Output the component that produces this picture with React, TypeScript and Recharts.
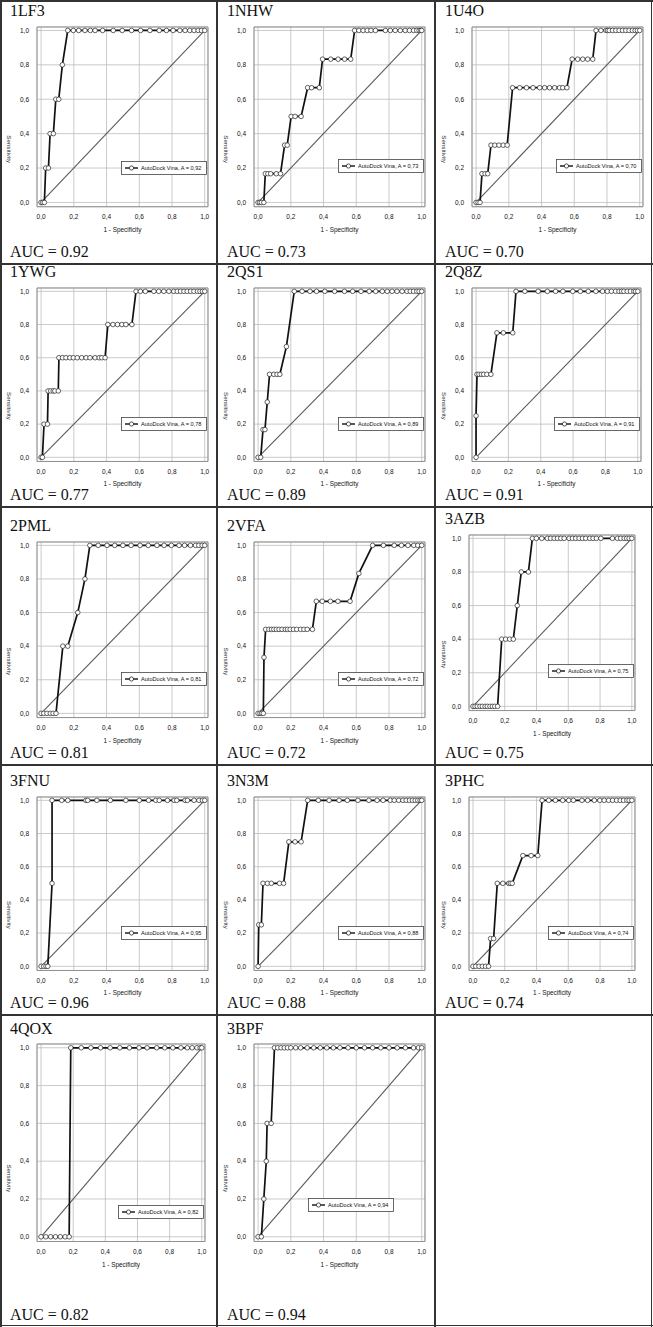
import React from "react";
import {
  CartesianGrid,
  Legend,
  Line,
  LineChart,
  ReferenceArea,
  ReferenceLine,
  XAxis,
  YAxis,
} from "recharts";

document.body.style.margin = "0";

const TARGETS = ["1LF3", "1NHW", "1U4O", "1YWG", "2QS1", "2Q8Z", "2PML", "2VFA", "3AZB", "3FNU", "3N3M", "3PHC", "4QOX", "3BPF"];
const AUC_VALUES = ["0.92", "0.73", "0.70", "0.77", "0.89", "0.91", "0.81", "0.72", "0.75", "0.96", "0.88", "0.74", "0.82", "0.94"];
const LEGEND_A = ["0,92", "0,73", "0,70", "0,78", "0,89", "0,91", "0,81", "0,72", "0,75", "0,95", "0,88", "0,74", "0,82", "0,94"];
const TICKS = [0, 0.2, 0.4, 0.6, 0.8, 1];

// [1 - specificity, sensitivity]
const ROC_1LF3 = [[0,0],[0.01,0],[0.02,0],[0.028,0.2],[0.045,0.2],[0.055,0.4],[0.075,0.4],[0.09,0.6],[0.108,0.6],[0.13,0.8],[0.163,1],[0.197,1],[0.23,1],[0.268,1],[0.301,1],[0.33,1],[0.376,1],[0.441,1],[0.496,1],[0.553,1],[0.608,1],[0.665,1],[0.722,1],[0.766,1],[0.807,1],[0.848,1],[0.88,1],[0.909,1],[0.935,1],[0.96,1],[0.98,1],[1,1]];
const ROC_1NHW = [[0,0],[0.01,0],[0.02,0],[0.035,0],[0.044,0.167],[0.06,0.167],[0.077,0.167],[0.111,0.167],[0.137,0.167],[0.162,0.333],[0.178,0.333],[0.202,0.5],[0.226,0.5],[0.263,0.5],[0.303,0.667],[0.327,0.667],[0.374,0.667],[0.394,0.833],[0.444,0.833],[0.489,0.833],[0.529,0.833],[0.566,0.833],[0.59,1],[0.616,1],[0.642,1],[0.667,1],[0.69,1],[0.717,1],[0.778,1],[0.808,1],[0.838,1],[0.869,1],[0.899,1],[0.925,1],[0.95,1],[0.97,1],[0.984,1],[0.994,1],[1,1]];
const ROC_1U4O = [[0,0],[0.012,0],[0.024,0],[0.036,0.167],[0.055,0.167],[0.071,0.167],[0.091,0.333],[0.115,0.333],[0.14,0.333],[0.166,0.333],[0.19,0.333],[0.223,0.667],[0.267,0.667],[0.308,0.667],[0.348,0.667],[0.389,0.667],[0.419,0.667],[0.449,0.667],[0.48,0.667],[0.51,0.667],[0.53,0.667],[0.555,0.667],[0.587,0.833],[0.621,0.833],[0.652,0.833],[0.682,0.833],[0.713,0.833],[0.733,1],[0.763,1],[0.794,1],[0.804,1],[0.814,1],[0.834,1],[0.854,1],[0.874,1],[0.895,1],[0.915,1],[0.935,1],[0.955,1],[0.972,1],[0.986,1],[1,1]];
const ROC_1YWG = [[0,0],[0.008,0],[0.018,0.2],[0.039,0.2],[0.043,0.4],[0.059,0.4],[0.074,0.4],[0.084,0.4],[0.105,0.4],[0.109,0.6],[0.131,0.6],[0.152,0.6],[0.176,0.6],[0.197,0.6],[0.221,0.6],[0.248,0.6],[0.275,0.6],[0.299,0.6],[0.33,0.6],[0.355,0.6],[0.371,0.6],[0.391,0.6],[0.408,0.8],[0.439,0.8],[0.467,0.8],[0.494,0.8],[0.518,0.8],[0.555,0.8],[0.58,1],[0.607,1],[0.637,1],[0.689,1],[0.719,1],[0.75,1],[0.781,1],[0.811,1],[0.832,1],[0.852,1],[0.873,1],[0.893,1],[0.914,1],[0.934,1],[0.955,1],[0.971,1],[0.986,1],[1,1]];
const ROC_2QS1 = [[0,0],[0.016,0],[0.03,0.167],[0.042,0.167],[0.056,0.333],[0.07,0.5],[0.096,0.5],[0.116,0.5],[0.133,0.5],[0.173,0.667],[0.221,1],[0.269,1],[0.317,1],[0.357,1],[0.408,1],[0.468,1],[0.528,1],[0.578,1],[0.629,1],[0.679,1],[0.719,1],[0.759,1],[0.789,1],[0.819,1],[0.849,1],[0.88,1],[0.91,1],[0.93,1],[0.95,1],[0.97,1],[0.984,1],[1,1]];
const ROC_2Q8Z = [[0,0],[0,0.25],[0.006,0.5],[0.018,0.5],[0.033,0.5],[0.047,0.5],[0.067,0.5],[0.092,0.5],[0.129,0.75],[0.169,0.75],[0.227,0.75],[0.247,1],[0.302,1],[0.384,1],[0.441,1],[0.492,1],[0.537,1],[0.598,1],[0.645,1],[0.694,1],[0.741,1],[0.782,1],[0.812,1],[0.837,1],[0.863,1],[0.884,1],[0.9,1],[0.914,1],[0.935,1],[0.955,1],[0.976,1],[0.986,1],[1,1]];
const ROC_2PML = [[0,0],[0.016,0],[0.036,0],[0.056,0],[0.073,0],[0.091,0],[0.133,0.4],[0.163,0.4],[0.224,0.6],[0.268,0.8],[0.298,1],[0.349,1],[0.403,1],[0.45,1],[0.5,1],[0.55,1],[0.605,1],[0.655,1],[0.708,1],[0.752,1],[0.796,1],[0.843,1],[0.877,1],[0.913,1],[0.944,1],[0.964,1],[0.984,1],[1,1]];
const ROC_2VFA = [[0,0],[0.012,0],[0.022,0],[0.032,0],[0.036,0.333],[0.046,0.5],[0.066,0.5],[0.082,0.5],[0.096,0.5],[0.112,0.5],[0.128,0.5],[0.146,0.5],[0.166,0.5],[0.18,0.5],[0.196,0.5],[0.216,0.5],[0.236,0.5],[0.26,0.5],[0.28,0.5],[0.3,0.5],[0.332,0.5],[0.356,0.667],[0.392,0.667],[0.442,0.667],[0.488,0.667],[0.562,0.667],[0.616,0.833],[0.7,1],[0.766,1],[0.832,1],[0.876,1],[0.916,1],[0.952,1],[0.976,1],[1,1]];
const ROC_3AZB = [[0,0],[0.013,0],[0.027,0],[0.044,0],[0.059,0],[0.076,0],[0.09,0],[0.107,0],[0.122,0],[0.137,0],[0.155,0],[0.181,0.4],[0.206,0.4],[0.231,0.4],[0.254,0.4],[0.279,0.6],[0.304,0.8],[0.349,0.8],[0.374,1],[0.399,1],[0.433,1],[0.468,1],[0.489,1],[0.511,1],[0.532,1],[0.553,1],[0.574,1],[0.605,1],[0.626,1],[0.647,1],[0.668,1],[0.689,1],[0.71,1],[0.735,1],[0.756,1],[0.777,1],[0.805,1],[0.878,1],[0.909,1],[0.93,1],[0.952,1],[0.968,1],[0.983,1],[1,1]];
const ROC_3FNU = [[0,0],[0.016,0],[0.03,0],[0.041,0],[0.067,0.5],[0.067,1],[0.126,1],[0.163,1],[0.274,1],[0.285,1],[0.341,1],[0.423,1],[0.518,1],[0.6,1],[0.657,1],[0.701,1],[0.722,1],[0.772,1],[0.813,1],[0.829,1],[0.88,1],[0.894,1],[0.935,1],[0.965,1],[0.986,1],[1,1]];
const ROC_3N3M = [[0,0],[0.004,0.25],[0.02,0.25],[0.03,0.5],[0.057,0.5],[0.081,0.5],[0.131,0.5],[0.156,0.5],[0.188,0.75],[0.226,0.75],[0.263,0.75],[0.303,1],[0.368,1],[0.434,1],[0.495,1],[0.545,1],[0.61,1],[0.677,1],[0.727,1],[0.764,1],[0.808,1],[0.832,1],[0.859,1],[0.885,1],[0.905,1],[0.925,1],[0.943,1],[0.96,1],[0.976,1],[0.99,1],[1,1]];
const ROC_3PHC = [[0,0],[0.017,0],[0.038,0],[0.059,0],[0.079,0],[0.098,0],[0.111,0.167],[0.13,0.167],[0.153,0.5],[0.188,0.5],[0.225,0.5],[0.235,0.5],[0.247,0.5],[0.314,0.667],[0.366,0.667],[0.408,0.667],[0.435,1],[0.477,1],[0.519,1],[0.565,1],[0.603,1],[0.632,1],[0.686,1],[0.722,1],[0.764,1],[0.799,1],[0.826,1],[0.854,1],[0.879,1],[0.904,1],[0.927,1],[0.948,1],[0.969,1],[0.983,1],[1,1]];
const ROC_4QOX = [[0,0],[0.03,0],[0.06,0],[0.09,0],[0.12,0],[0.15,0],[0.175,0],[0.185,1],[0.25,1],[0.31,1],[0.37,1],[0.43,1],[0.49,1],[0.55,1],[0.61,1],[0.66,1],[0.72,1],[0.77,1],[0.82,1],[0.87,1],[0.91,1],[0.94,1],[0.97,1],[0.99,1],[1,1]];
const ROC_3BPF = [[0,0],[0.02,0],[0.035,0.2],[0.05,0.4],[0.055,0.6],[0.08,0.6],[0.1,1],[0.12,1],[0.14,1],[0.16,1],[0.18,1],[0.2,1],[0.23,1],[0.26,1],[0.3,1],[0.34,1],[0.38,1],[0.42,1],[0.46,1],[0.5,1],[0.55,1],[0.6,1],[0.65,1],[0.7,1],[0.75,1],[0.8,1],[0.85,1],[0.9,1],[0.95,1],[0.98,1],[1,1]];

const CURVES = [ROC_1LF3, ROC_1NHW, ROC_1U4O, ROC_1YWG, ROC_2QS1, ROC_2Q8Z, ROC_2PML, ROC_2VFA, ROC_3AZB, ROC_3FNU, ROC_3N3M, ROC_3PHC, ROC_4QOX, ROC_3BPF];

// table layout
const ROW_TOPS = [0, 264, 507, 765, 1015, 1327];
const COL_LEFTS = [0, 217, 435, 653];
// per row: where the 1,0 gridline sits inside the cell, and pixels per unit on the y axis
const ROW_Y1 = [30, 27, 38, 35, 33];
const ROW_UNIT = [172, 166, 168, 166, 189];
// per cell: y-axis width, right margin, vertical shift, legend centre (sensitivity units) and legend x shift
const CELL_YAXIS = [37, 37, 37, 37, 37, 37, 37, 37, 34, 37, 37, 34, 37, 37];
const CELL_RIGHT = [9, 9, 9, 9, 9, 11, 9, 9, 17, 9, 9, 17, 12, 9];
const CELL_Y1_SHIFT = [0, 0, 0, 0, 0, 0, 0, 0, -7, 0, 0, 0, 0, 0];
const CELL_LEGEND_Y = [0.2, 0.21, 0.21, 0.2, 0.2, 0.2, 0.2, 0.2, 0.21, 0.2, 0.2, 0.2, 0.13, 0.17];
const CELL_LEGEND_DX = [0, 0, 0, 0, 0, 0, 0, 0, 0, 0, 0, 0, 0, -30];

const LO = -0.025;
const HI = 1.02;
const SERIF = "'Liberation Serif', 'Times New Roman', serif";
const SANS = "'Liberation Sans', Arial, sans-serif";
const AXIS_H = 33;
const LEGEND_W = 86;

const fmt = (v: number) => v.toFixed(1).replace(".", ",");

function LegendBox({ a }: { a: string }) {
  return (
    <svg width={LEGEND_W} height={14} style={{ display: "block" }}>
      <rect x={0.5} y={0.5} width={LEGEND_W - 1} height={13} fill="#fff" stroke="#444" strokeWidth={0.8} />
      <line x1={4} y1={7} x2={17} y2={7} stroke="#111" strokeWidth={1.4} />
      <circle cx={10.5} cy={7} r={2.1} fill="#fff" stroke="#111" strokeWidth={0.7} />
      <text x={20} y={9.2} fontSize={5.6} fontFamily={SANS} fill="#111">
        AutoDock Vina, A = {a}
      </text>
    </svg>
  );
}

function RocCell({ index }: { index: number }) {
  const row = Math.floor(index / 3);
  const col = index % 3;
  const left = COL_LEFTS[col];
  const top = ROW_TOPS[row];
  const width = COL_LEFTS[col + 1] - left;
  const height = ROW_TOPS[row + 1] - top;
  const unit = ROW_UNIT[row];
  const plotH = unit * (HI - LO);
  const chartH = 3 + plotH + AXIS_H;
  const chartTop = ROW_Y1[row] + CELL_Y1_SHIFT[index] - 3 - unit * (HI - 1);
  const data = CURVES[index].map(([x, y]) => ({ x, y }));
  const legendTop = 3 + unit * (HI - CELL_LEGEND_Y[index]) - 7;
  const legendLeft = 217 - CELL_RIGHT[index] - LEGEND_W - 1 + CELL_LEGEND_DX[index];

  const yLabel = (p: any) => {
    const vb = p.viewBox;
    const cx = vb.x + 7;
    const cy = vb.y + vb.height * 0.68;
    return (
      <text x={cx} y={cy} textAnchor="middle" fontSize={6.2} fontFamily={SANS} fill="#222" transform={`rotate(90, ${cx}, ${cy})`}>
        Sensitivity
      </text>
    );
  };
  const xLabel = (p: any) => {
    const vb = p.viewBox;
    return (
      <text x={vb.x + vb.width / 2} y={vb.y + 25} textAnchor="middle" fontSize={6.4} fontFamily={SANS} fill="#111">
        1 - Specificity
      </text>
    );
  };

  return (
    <div style={{ position: "absolute", left, top, width, height }}>
      <div style={{ position: "absolute", left: 10, top: ROW_Y1[row] + CELL_Y1_SHIFT[index] - 28, fontFamily: SERIF, fontSize: 16, color: "#111" }}>
        {TARGETS[index]}
      </div>
      <div style={{ position: "absolute", left: 0, top: chartTop }}>
        <LineChart
          width={217}
          height={chartH}
          data={data}
          margin={{ top: 3, right: CELL_RIGHT[index], bottom: 0, left: 0 }}
        >
          <CartesianGrid stroke="#bcbcbc" strokeWidth={0.8} />
          <ReferenceArea x1={LO} x2={HI} y1={LO} y2={HI} fill="none" stroke="#8a8a8a" strokeWidth={0.9} ifOverflow="visible" />
          <XAxis
            dataKey="x"
            type="number"
            domain={[LO, HI]}
            ticks={TICKS}
            tickFormatter={fmt}
            tick={{ fontSize: 6.5, fill: "#111", fontFamily: SANS }}
            tickLine={false}
            axisLine={false}
            height={AXIS_H}
            label={{ content: xLabel }}
          />
          <YAxis
            dataKey="y"
            type="number"
            domain={[LO, HI]}
            ticks={TICKS}
            tickFormatter={fmt}
            tick={{ fontSize: 6.5, fill: "#111", fontFamily: SANS }}
            tickLine={false}
            axisLine={false}
            width={CELL_YAXIS[index]}
            label={{ content: yLabel }}
          />
          <ReferenceLine segment={[{ x: 0, y: 0 }, { x: 1, y: 1 }]} stroke="#5a5a5a" strokeWidth={1.1} />
          <Line
            dataKey="y"
            type="linear"
            stroke="#111"
            strokeWidth={1.7}
            dot={{ r: 2.3, fill: "#fff", stroke: "#222", strokeWidth: 0.7 }}
            isAnimationActive={false}
          />
          <Legend
            layout="horizontal"
            verticalAlign="middle"
            align="center"
            wrapperStyle={{ left: legendLeft, top: legendTop, width: LEGEND_W }}
            content={() => <LegendBox a={LEGEND_A[index]} />}
          />
        </LineChart>
      </div>
      <div style={{ position: "absolute", left: 10, bottom: 3, fontFamily: SERIF, fontSize: 16, color: "#111" }}>
        AUC = {AUC_VALUES[index]}
      </div>
    </div>
  );
}

export default function App() {
  return (
    <div style={{ position: "relative", width: 653, height: 1327, background: "#fff" }}>
      {TARGETS.map((_, i) => (
        <RocCell key={i} index={i} />
      ))}
      {COL_LEFTS.map((x, i) => (
        <div key={"c" + i} style={{ position: "absolute", left: Math.min(x, 651.5) - (i === 0 ? 0 : 0.75), top: 0, width: 1.5, height: 1327, background: "#333" }} />
      ))}
      {ROW_TOPS.map((y, i) => (
        <div key={"r" + i} style={{ position: "absolute", top: Math.min(y, 1325.5) - (i === 0 ? 0 : 0.75), left: 0, width: 653, height: 1.5, background: "#333" }} />
      ))}
    </div>
  );
}
